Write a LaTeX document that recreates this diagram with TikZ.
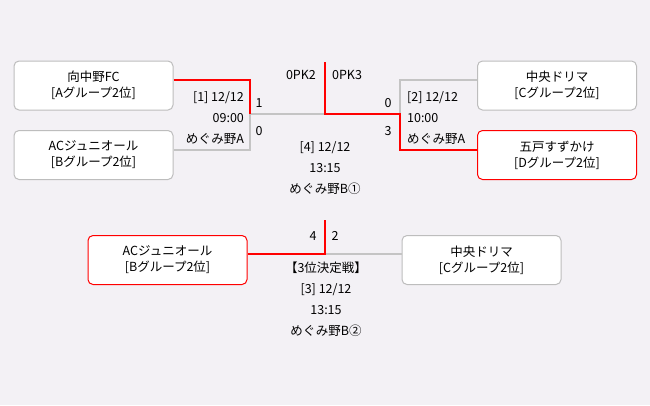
\documentclass[tikz,border=0pt]{standalone}
\usepackage{fontspec}
\setmainfont{Noto Sans CJK JP}
\definecolor{bgcol}{HTML}{F3F1F5}
\definecolor{linegray}{HTML}{C4C4C4}
\definecolor{boxgray}{HTML}{BDBDBD}
\definecolor{winred}{HTML}{FF0000}
\tikzset{every picture/.style={line width=0.75pt}}
\tikzset{
  teambox/.style={draw=boxgray, line width=1pt, fill=white, rounded corners=5pt, minimum width=159, minimum height=49, inner sep=0pt, align=center, font=\fontsize{12.5}{16}\selectfont},
  winbox/.style={teambox, draw=winred},
  lose/.style={draw=linegray, line width=2pt},
  win/.style={draw=winred, line width=2pt},
  info/.style={inner sep=0.75pt, font=\fontsize{12.5}{21}\selectfont},
}

\begin{document}
\begin{tikzpicture}[x=1pt,y=1pt,yscale=-1,xscale=1]
%set diagram left start at 0, and has height of 405
\fill[bgcol] (0,0) rectangle (650,405);
\useasboundingbox (0,0) rectangle (650,405);

% Team boxes
\node[teambox] (hnf) at (93.5,85.5) {向中野FC\\{[}Aグループ2位{]}};
\node[teambox] (acj) at (93.5,155) {ACジュニオール\\{[}Bグループ2位{]}};
\node[teambox] (cdr) at (557,85.5) {中央ドリマ\\{[}Cグループ2位{]}};
\node[winbox] (gsk) at (557,155) {五戸すずかけ\\{[}Dグループ2位{]}};
\node[winbox] (acj3) at (167.5,260) {ACジュニオール\\{[}Bグループ2位{]}};
\node[teambox] (cdr3) at (481.5,260) {中央ドリマ\\{[}Cグループ2位{]}};

% Junctions
\coordinate (m1a) at (250,80);
\coordinate (m1) at (250,114);
\coordinate (m1b) at (250,150);
\coordinate (m2a) at (400,80);
\coordinate (m2) at (400,114);
\coordinate (m2b) at (400,150);
\coordinate (fin) at (325,114);
\coordinate (fintop) at (325,62);
\coordinate (m3) at (325,254);
\coordinate (m3top) at (325,220);

%Straight Lines
\draw[lose] (m1) -- (m1b) -- (acj.east |- m1b);
\draw[lose] (m1) -- (fin);
\draw[lose] (m2) -- (m2a) -- (cdr.west |- m2a);
\draw[lose] (m3) -- (cdr3.west |- m3);
\draw[win] (hnf.east |- m1a) -- (m1a) -- (m1);
\draw[win] (fintop) -- (fin) -- (m2) -- (m2b) -- (gsk.west |- m2b);
\draw[win] (m3top) -- (m3) -- (acj3.east |- m3);

% Text Node
\node[info, anchor=east, align=right] (g1) at (245,118) {{[}1{]} 12/12\\09:00\\めぐみ野A};
% Text Node
\node[info, anchor=west, align=left] (g2) at (406,118) {{[}2{]} 12/12\\10:00\\めぐみ野A};
% Text Node
\node[info, align=center] (g4) at (325,168) {{[}4{]} 12/12\\13:15\\めぐみ野B①};
% Text Node
\node[info, align=center] (g3) at (326,299) {【3位決定戦】\\{[}3{]} 12/12\\13:15\\めぐみ野B②};
% Scores
\node[info] (s1a) at (259,103) {1};
\node[info] (s1b) at (259,131) {0};
\node[info] (s2a) at (388,103) {0};
\node[info] (s2b) at (388,131) {3};
\node[info, anchor=east] (pk2) at (317,75) {0PK2};
\node[info, anchor=west] (pk3) at (331,75) {0PK3};
\node[info] (s3a) at (313,236) {4};
\node[info] (s3b) at (335,236) {2};

\end{tikzpicture}
\end{document}
